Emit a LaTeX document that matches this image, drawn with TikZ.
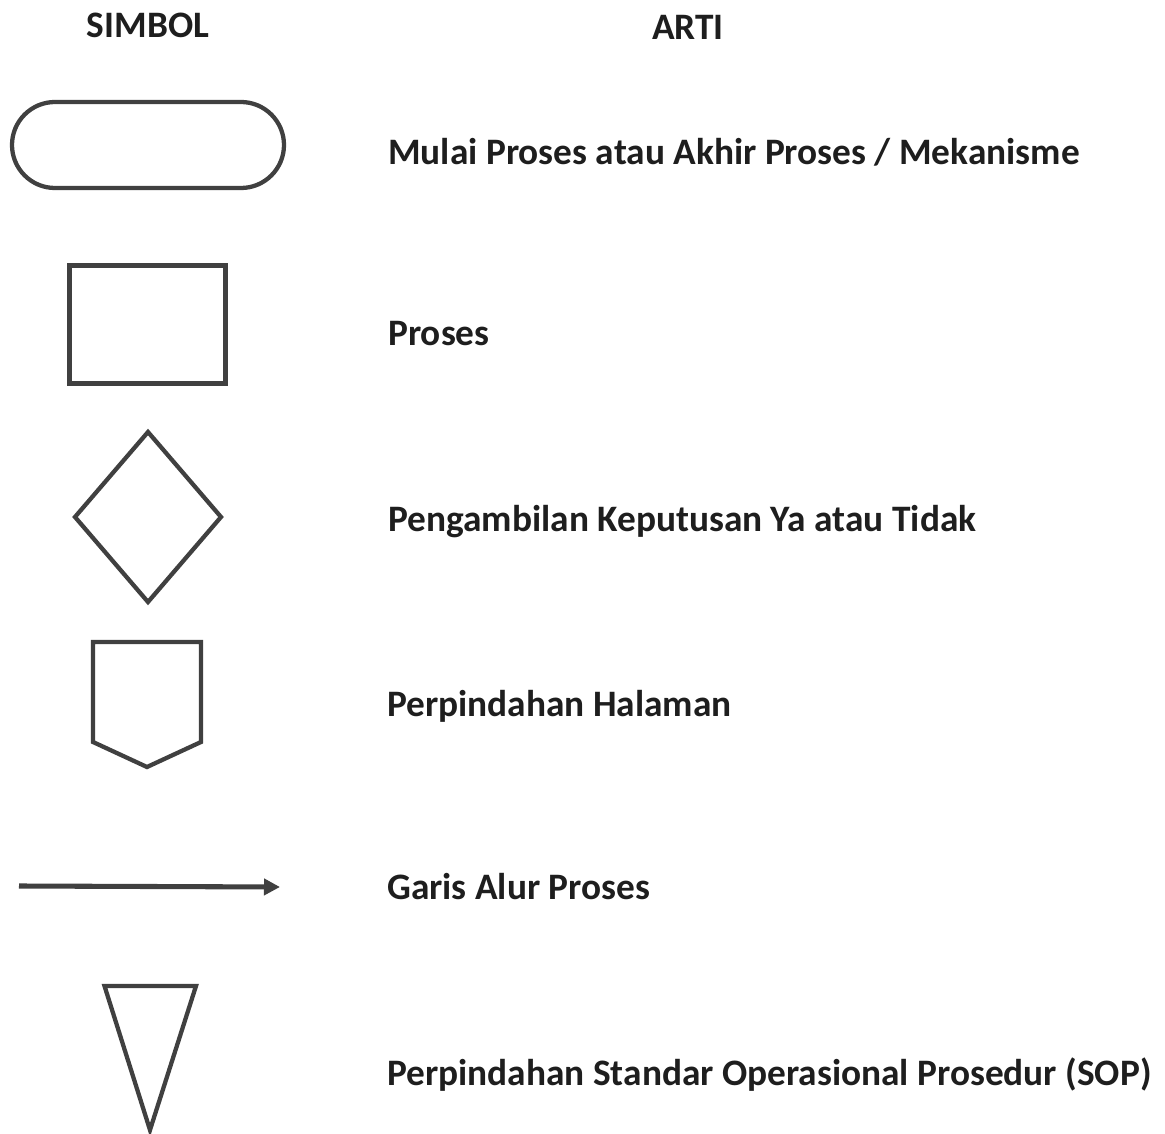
\documentclass[tikz,border=0pt]{standalone}
\usepackage{fontspec}
\setmainfont{Carlito}
\usetikzlibrary{arrows.meta}
\definecolor{shapecol}{HTML}{404040}
\definecolor{txtcol}{HTML}{1E1E1E}
\begin{document}
\begin{tikzpicture}[x=0.75pt,y=-0.75pt,
  sym/.style={draw=shapecol,line width=3.2pt,line join=miter},
  lbl/.style={anchor=base west,inner sep=0pt,text=txtcol,font=\fontsize{28}{32}\selectfont\bfseries},
  head/.style={anchor=base,inner sep=0pt,text=txtcol,font=\fontsize{28}{32}\selectfont\bfseries}]
\useasboundingbox (0,0) rectangle (1165,1134);
\fill[white] (0,0) rectangle (1165,1134);
% headers
\node[head] (h1) at (148,38) {SIMBOL};
\node[head] (h2) at (688,40) {ARTI};
% terminator
\draw[sym] (55,102) -- (241,102) arc[start angle=-90,end angle=90,radius=43] -- (55,188) arc[start angle=90,end angle=270,radius=43] -- cycle;
% process
\draw[sym] (69.5,265.5) rectangle (225.5,383.5);
% decision
\draw[sym] (148,432) -- (221,517) -- (148,602) -- (75,517) -- cycle;
% off-page connector
\draw[sym] (93,642) -- (201,642) -- (201,742) -- (147,767) -- (93,742) -- cycle;
% flow line
\coordinate (a1) at (19,886);
\coordinate (a2) at (280,887);
\draw[draw=shapecol,line width=3.8pt,-{Triangle[length=12pt,width=12pt]}] (a1) -- (a2);
% triangle
\draw[sym] (104.5,986) -- (196,986) -- (150,1130) -- cycle;
% labels
\node[lbl] (t1) at (388,165) {Mulai Proses atau Akhir Proses / Mekanisme};
\node[lbl] (t2) at (388,346) {Proses};
\node[lbl] (t3) at (388,532) {Pengambilan Keputusan Ya atau Tidak};
\node[lbl] (t4) at (387,716) {Perpindahan Halaman};
\node[lbl] (t5) at (387,899) {Garis Alur Proses};
\node[lbl] (t6) at (387,1085) {Perpindahan Standar Operasional Prosedur (SOP)};
\end{tikzpicture}
\end{document}
